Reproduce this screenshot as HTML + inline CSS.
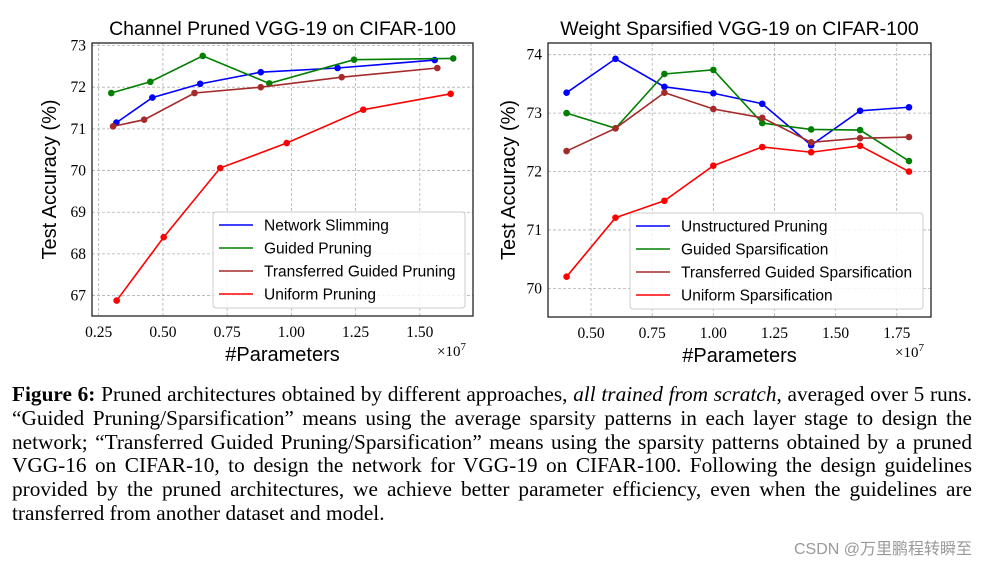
<!DOCTYPE html>
<html><head><meta charset="utf-8"><style>
body{margin:0;background:#fff;width:988px;height:564px;overflow:hidden;position:relative;font-family:"Liberation Serif",serif}
#cap{position:absolute;left:12px;top:383px;width:960px;font-size:21.3px;line-height:23.8px;color:#000}
#cap div{text-align:justify;text-align-last:justify;white-space:nowrap}
#cap div.last{text-align-last:left}
#wm{position:absolute;right:16px;top:535px;font-family:"Liberation Sans","Noto Sans CJK SC",sans-serif;font-size:16px;color:#999}
</style></head><body>
<svg id="svg" width="988" height="380" style="position:absolute;left:0;top:0"></svg>
<div id="cap">
<div><b>Figure 6:</b> Pruned architectures obtained by different approaches, <i>all trained from scratch</i>, averaged over 5 runs.</div>
<div>“Guided Pruning/Sparsification” means using the average sparsity patterns in each layer stage to design the</div>
<div>network; “Transferred Guided Pruning/Sparsification” means using the sparsity patterns obtained by a pruned</div>
<div>VGG-16 on CIFAR-10, to design the network for VGG-19 on CIFAR-100. Following the design guidelines</div>
<div>provided by the pruned architectures, we achieve better parameter efficiency, even when the guidelines are</div>
<div class="last">transferred from another dataset and model.</div>
</div>
<div id="wm">CSDN @万里鹏程转瞬至</div>
<script>
const leftNames=["Network Slimming","Guided Pruning","Transferred Guided Pruning","Uniform Pruning"];
const leftX=[[0.319,0.459,0.645,0.881,1.18,1.558],[0.299,0.451,0.655,0.914,1.244,1.63],[0.306,0.427,0.623,0.881,1.196,1.568],[0.32,0.503,0.723,0.982,1.28,1.62]];
const leftY=[[71.15,71.75,72.08,72.36,72.46,72.65],[71.86,72.13,72.75,72.09,72.66,72.69],[71.06,71.22,71.86,72.0,72.24,72.46],[66.88,68.4,70.06,70.66,71.46,71.84]];
const leftXTicks=[0.25,0.5,0.75,1.0,1.25,1.5];
const leftYTicks=[67,68,69,70,71,72,73];
const rightNames=["Unstructured Pruning","Guided Sparsification","Transferred Guided Sparsification","Uniform Sparsification"];
const rightXs=[0.4,0.6,0.8,1.0,1.2,1.4,1.6,1.8];
const rightY=[[73.35,73.93,73.45,73.34,73.16,72.45,73.04,73.1],[73.0,72.74,73.67,73.74,72.83,72.72,72.71,72.18],[72.35,72.74,73.35,73.07,72.92,72.5,72.57,72.59],[70.2,71.21,71.5,72.1,72.42,72.33,72.44,72.0]];
const rightXTicks=[0.5,0.75,1.0,1.25,1.5,1.75];
const rightYTicks=[70,71,72,73,74];
const colors=["#0000ff","#008000","#a52a2a","#ff0000"];
const svg=document.getElementById('svg');const NS="http://www.w3.org/2000/svg";
function el(t,a,p){const e=document.createElementNS(NS,t);for(const k in a)e.setAttribute(k,a[k]);(p||svg).appendChild(e);return e;}
function chart(o){
 const g=el('g',{});
 
 
 const sx=v=>o.L+(v-o.x0)/(o.x1-o.x0)*(o.R-o.L), sy=v=>o.B-(v-o.y0)/(o.y1-o.y0)*(o.B-o.T);
 o.xt.forEach(v=>{el('line',{x1:sx(v),x2:sx(v),y1:o.T,y2:o.B,stroke:'#b0b0b0','stroke-dasharray':'3,2','stroke-width':0.8},g);
  const t=el('text',{x:sx(v),y:o.B+21,'text-anchor':'middle','font-size':15.5,'font-family':'Liberation Serif,serif'},g);t.textContent=v.toFixed(2);
  
  });
 o.yt.forEach(v=>{el('line',{x1:o.L,x2:o.R,y1:sy(v),y2:sy(v),stroke:'#b0b0b0','stroke-dasharray':'3,2','stroke-width':0.8},g);
  const t=el('text',{x:o.L-6,y:sy(v)+5,'text-anchor':'end','font-size':15.5,'font-family':'Liberation Serif,serif'},g);t.textContent=v;
  
  });
 o.ys.forEach((ys,i)=>{const xs=o.xs[i];const s=el('g',{},g);
  
  
  el('polyline',{points:ys.map((y,j)=>sx(xs[j])+','+sy(y)).join(' '),fill:'none',stroke:colors[i],'stroke-width':1.6},s);
  ys.forEach((y,j)=>{const c=el('circle',{cx:sx(xs[j]),cy:sy(y),r:3.3,fill:colors[i]},s);
   
   });});
 el('rect',{x:o.L,y:o.T,width:o.R-o.L,height:o.B-o.T,fill:'none',stroke:'#222','stroke-width':1.3},g);
 const tt=el('text',{x:(o.L+o.R)/2,y:o.T-8,'text-anchor':'middle','font-size':19.5,'font-family':'Liberation Sans,sans-serif'},g);tt.textContent=o.title;
 
 
 const xl=el('text',{x:(o.L+o.R)/2,y:o.B+45,'text-anchor':'middle','font-size':20,'font-family':'Liberation Sans,sans-serif'},g);xl.textContent='#Parameters';
 
 
 const ex=el('text',{x:o.R-36,y:o.B+40,'font-size':15,'font-family':'Liberation Serif,serif'},g);ex.innerHTML='×10<tspan dy="-6" font-size="11">7</tspan>';
 
 
 const yl=el('text',{x:0,y:0,'text-anchor':'middle','font-size':20,'font-family':'Liberation Sans,sans-serif',transform:`translate(${o.yx},${(o.T+o.B)/2}) rotate(-90)`},g);yl.textContent='Test Accuracy (%)';
 
 
 const lg=el('g',{},g);
 
 
 el('rect',{x:o.lx,y:o.ly,width:o.lw,height:96,rx:3,fill:'#fff','fill-opacity':0.85,stroke:'#ccc'},lg);
 o.names.forEach((n,i)=>{const y=o.ly+13+i*23;
  el('line',{x1:o.lx+6,x2:o.lx+40,y1:y,y2:y,stroke:colors[i],'stroke-width':1.6},lg);
  const t=el('text',{x:o.lx+51,y:y+5.5,'font-size':15.5,'font-family':'Liberation Sans,sans-serif'},lg);t.textContent=n;
  
  });
}
chart({name:'channel-pruned-chart',title:'Channel Pruned VGG-19 on CIFAR-100',L:92,R:473,T:43,B:316,x0:0.224,x1:1.707,y0:66.51,y1:73.06,xt:leftXTicks,yt:leftYTicks,xs:leftX,ys:leftY,names:leftNames,yx:56,lx:213,ly:212,lw:252});
chart({name:'weight-sparsified-chart',title:'Weight Sparsified VGG-19 on CIFAR-100',L:548,R:931,T:43,B:317,x0:0.324,x1:1.89,y0:69.51,y1:74.2,xt:rightXTicks,yt:rightYTicks,xs:rightY.map(()=>rightXs),ys:rightY,names:rightNames,yx:515,lx:630,ly:213,lw:293});
</script>
</body></html>
